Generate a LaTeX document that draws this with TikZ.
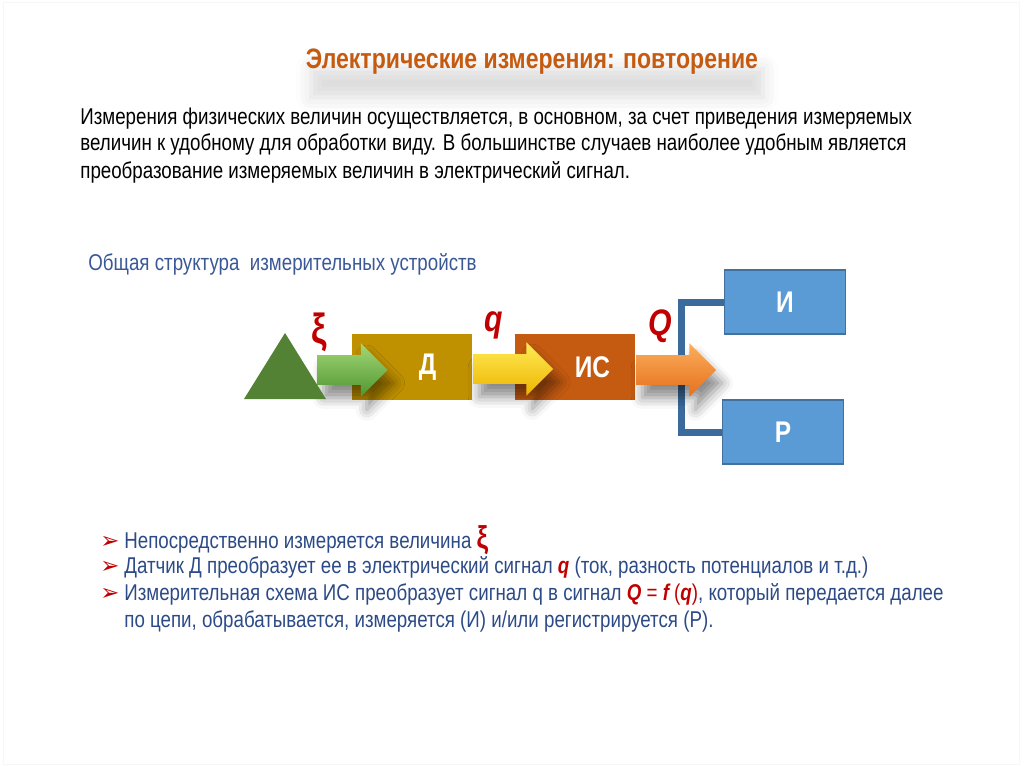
\documentclass[tikz,border=0pt]{standalone}
\usepackage{fontspec}
\setmainfont{Liberation Sans}[FakeStretch=0.82]
\newfontfamily\dingfont{DejaVu Sans}
\usetikzlibrary{positioning, shapes.arrows, shapes.geometric, shadows.blur}

\definecolor{titlebrown}{HTML}{C55A11}
\definecolor{headblue}{HTML}{3A5896}
\definecolor{textblue}{HTML}{2C4A86}
\definecolor{sigred}{HTML}{C00000}
\definecolor{srcgreen}{HTML}{548235}
\definecolor{sensgold}{HTML}{BF9000}
\definecolor{circorange}{HTML}{C55A11}
\definecolor{outblue}{HTML}{5B9BD5}
\definecolor{outborder}{HTML}{41719C}
\definecolor{brackblue}{HTML}{3B6A9C}
\definecolor{greentop}{HTML}{A3D877}
\definecolor{greenbot}{HTML}{4F9530}
\definecolor{yellowtop}{HTML}{FFEB55}
\definecolor{yellowbot}{HTML}{EDB400}
\definecolor{orangetop}{HTML}{FBAE5C}
\definecolor{orangebot}{HTML}{E5701C}

\newcommand\sigtext[1]{\textcolor{sigred}{\bfseries\itshape #1}}
\newcommand\itemmark{\makebox[0.48cm][l]{\dingfont\color{sigred}\fontsize{13}{13}\selectfont ➢}}

\tikzset{
  block/.style={shape=rectangle, minimum width=2.42cm, minimum height=1.32cm, inner sep=0pt, text=white, font=\fontsize{17}{17}\selectfont\bfseries},
  outblock/.style={block, fill=outblue, draw=outborder, line width=0.8pt, minimum height=1.28cm},
  flow/.style={single arrow, inner sep=0pt, text height=0.29cm, text depth=0.29cm, single arrow head extend=0.24cm, minimum height=1.6cm, blur shadow={shadow xshift=0.12cm, shadow yshift=-0.26cm, shadow blur radius=0.22cm, shadow opacity=45}},
  siglabel/.style={text=sigred, font=\fontsize{21}{21}\selectfont\bfseries\itshape},
  bodytext/.style={anchor=base west, inner sep=0pt, font=\fontsize{13}{15}\selectfont},
  listline/.style={bodytext, text=textblue},
  bracket/.style={brackblue, line width=0.14cm, line join=miter},
}

\begin{document}
\begin{tikzpicture}[x=0.02cm, y=-0.02cm]
	\useasboundingbox (0,0) rectangle (1024,767);
	% Title and text:
	\draw[black!3] (3,2) rectangle (1019,764);
	\node[text=titlebrown, font=\fontsize{16}{16}\selectfont\bfseries, inner xsep=0pt, inner ysep=1pt, blur shadow={shadow xshift=0.1cm, shadow yshift=-0.42cm, shadow blur radius=0.3cm, shadow opacity=14}] (title) at (532,62) {Электрические измерения: повторение};
	\node[bodytext] (par1) at (80,125) {Измерения физических величин осуществляется, в основном, за счет приведения измеряемых};
	\node[bodytext] (par2) at (80,151) {величин к удобному для обработки виду. В большинстве случаев наиболее удобным является};
	\node[bodytext] (par3) at (80,178) {преобразование измеряемых величин в электрический сигнал.};
	\node[bodytext, text=headblue] (head) at (88,270) {Общая структура\ \ измерительных устройств};
	% Blocks and bracket:
	\node[block, fill=sensgold] (D) at (412,367) {\hspace{0.62cm}Д};
	\node[block, fill=circorange] (IS) at (575,367) {\hspace{0.7cm}ИС};
	\node[outblock] (I) at (785,302) {И};
	\node[outblock] (R) at (783,432) {Р};
	\draw[bracket] (I.west) -- ++(-42,0) |- (R.west);
	% Signal arrows:
	\node[flow, top color=greentop, bottom color=greenbot, anchor=tip, minimum height=1.4cm] (xiflow) at ([xshift=0.74cm, yshift=-0.06cm]D.west) {};
	\node[flow, top color=yellowtop, bottom color=yellowbot, anchor=tail] (qflow) at ([yshift=-0.04cm]D.east) {};
	\node[flow, top color=orangetop, bottom color=orangebot, anchor=tail] (Qflow) at ([yshift=-0.06cm]IS.east) {};
	\node[regular polygon, regular polygon sides=3, fill=srcgreen, minimum size=1.894cm, inner sep=0pt, yscale=0.93] (src) at (285,377) {};
	\node[siglabel, font=\fontsize{24}{24}\selectfont\bfseries] (xilab) at ([shift={(2,-38)}]xiflow.tail) {ξ};
	\node[siglabel] (qlab) at ([shift={(21,-44)}]qflow.tail) {q};
	\node[siglabel] (Qlab) at ([shift={(24,-44)}]Qflow.tail) {Q};
	% List:
	\node[listline] (item1) at (100,548) {\itemmark Непосредственно измеряется величина {\color{sigred}\bfseries\fontsize{18}{18}\selectfont ξ}};
	\node[listline] (item2) at (100,573) {\itemmark Датчик Д преобразует ее в электрический сигнал \sigtext{q} (ток, разность потенциалов и т.д.)};
	\node[listline] (item3) at (100,600) {\itemmark Измерительная схема ИС преобразует сигнал q в сигнал \sigtext{Q} \textcolor{sigred}{=} \sigtext{f} \textcolor{sigred}{(\sigtext{q})}, который передается далее};
	\node[listline] (item4) at (124,627) {по цепи, обрабатывается, измеряется (И) и/или регистрируется (Р).};
\end{tikzpicture}
\end{document}
